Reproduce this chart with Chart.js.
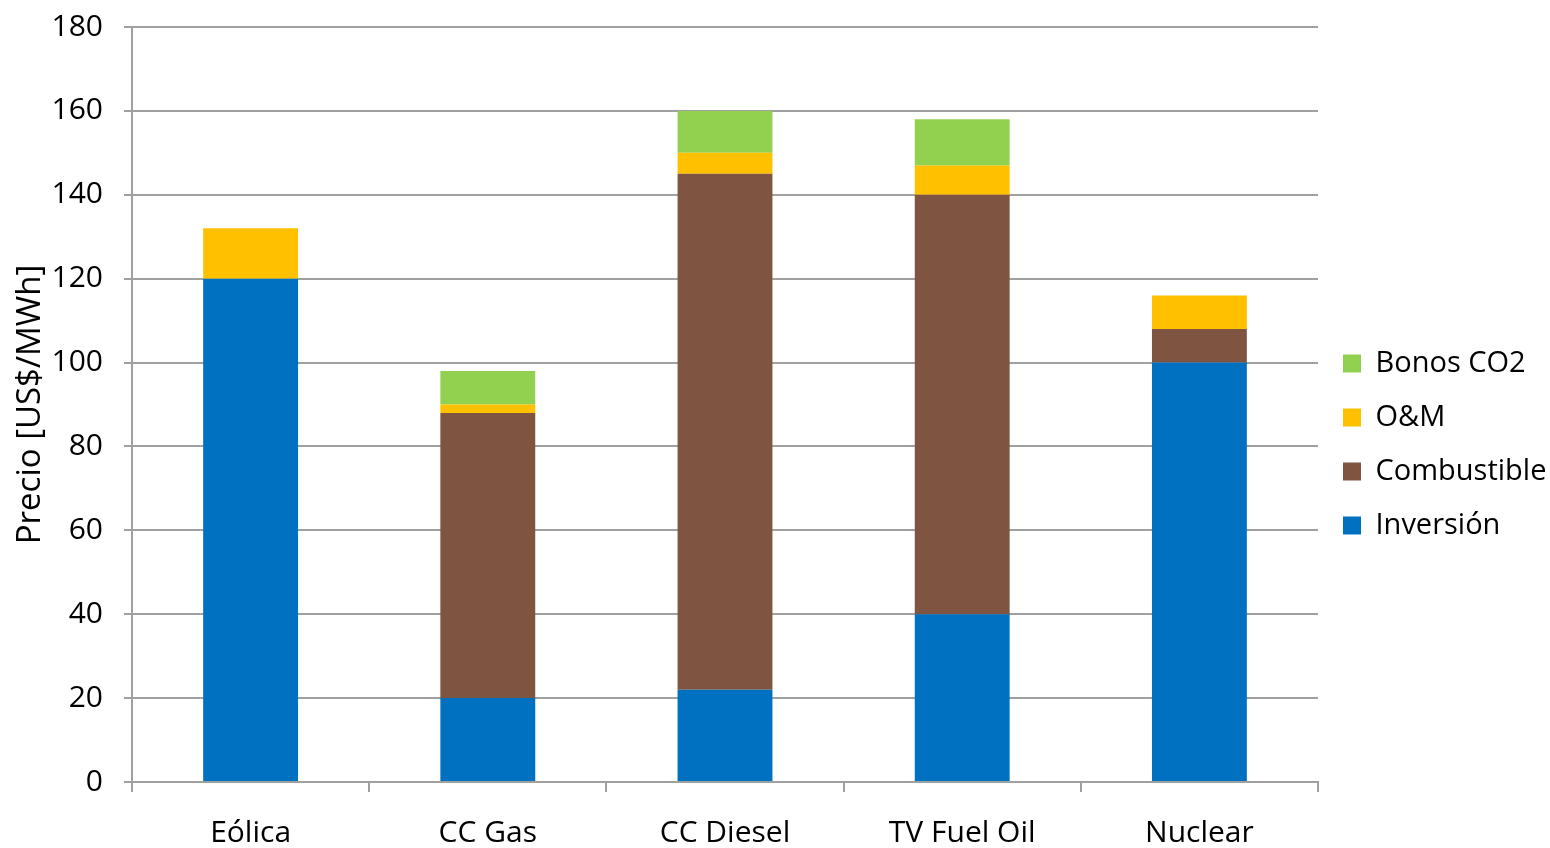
<!DOCTYPE html>
<html>
<head>
<meta charset="utf-8">
<script src="https://cdn.jsdelivr.net/npm/chart.js@4"></script>
<style>
  html, body { margin: 0; padding: 0; background: #fff; }
  #wrap { width: 1550px; height: 848px; }
</style>
</head>
<body>
<div id="wrap"><canvas id="c" width="1550" height="848"></canvas></div>
<script>
const categories = ['Eólica', 'CC Gas', 'CC Diesel', 'TV Fuel Oil', 'Nuclear'];
const inversion = [120, 20, 22, 40, 100];
const combustible = [0, 68, 123, 100, 8];
const om = [12, 2, 5, 7, 8];
const bonosCO2 = [0, 8, 10, 11, 0];
const yTicks = [0, 20, 40, 60, 80, 100, 120, 140, 160, 180];
const yTitle = 'Precio [US$/MWh]';

const FONT = '"Open Sans", sans-serif';
const GRID = '#a0a0a0';

const legendShift = {
  id: 'legendShift',
  afterLayout(chart) {
    const lg = chart.legend;
    if (lg) { lg.top += 7; lg.bottom += 7; }
  }
};

new Chart(document.getElementById('c'), {
  type: 'bar',
  data: {
    labels: categories,
    datasets: [
      { label: 'Inversión', data: inversion, backgroundColor: '#0070C0' },
      { label: 'Combustible', data: combustible, backgroundColor: '#7F5441' },
      { label: 'O&M', data: om, backgroundColor: '#FFC000' },
      { label: 'Bonos CO2', data: bonosCO2, backgroundColor: '#92D050' }
    ]
  },
  options: {
    responsive: false,
    animation: false,
    devicePixelRatio: 1,
    layout: { padding: { top: 27, left: 11, right: 0, bottom: 0 } },
    datasets: { bar: { barPercentage: 0.4, categoryPercentage: 1.0, borderWidth: 0 } },
    plugins: {
      legend: {
        position: 'right',
        reverse: true,
        maxWidth: 232,
        labels: {
          boxWidth: 18, boxHeight: 18, padding: 25,
          color: '#000',
          font: { family: FONT, size: 29 }
        }
      },
      tooltip: { enabled: false }
    },
    scales: {
      x: {
        stacked: true,
        afterFit(scale) { scale.height = 66; },
        grid: { display: true, drawOnChartArea: false, drawTicks: true, tickLength: 10, offset: true, color: GRID, lineWidth: 2 },
        border: { display: true, color: GRID, width: 2 },
        ticks: { color: '#000', padding: 23, font: { family: FONT, size: 30 }, maxRotation: 0 }
      },
      y: {
        stacked: true,
        min: 0, max: 180,
        afterBuildTicks(scale) { scale.ticks = yTicks.map(v => ({ value: v })); },
        afterFit(scale) { scale.width = 121; scale.paddingTop = 0; scale.paddingBottom = 0; },
        grid: { color: GRID, lineWidth: 2, drawTicks: true, tickLength: 8, tickColor: GRID },
        border: { display: true, color: GRID, width: 2 },
        ticks: { color: '#000', padding: 21, font: { family: FONT, size: 30 } },
        title: { display: true, text: yTitle, color: '#000', padding: 0, font: { family: FONT, size: 33 } }
      }
    }
  },
  plugins: [legendShift]
});
</script>
</body>
</html>
